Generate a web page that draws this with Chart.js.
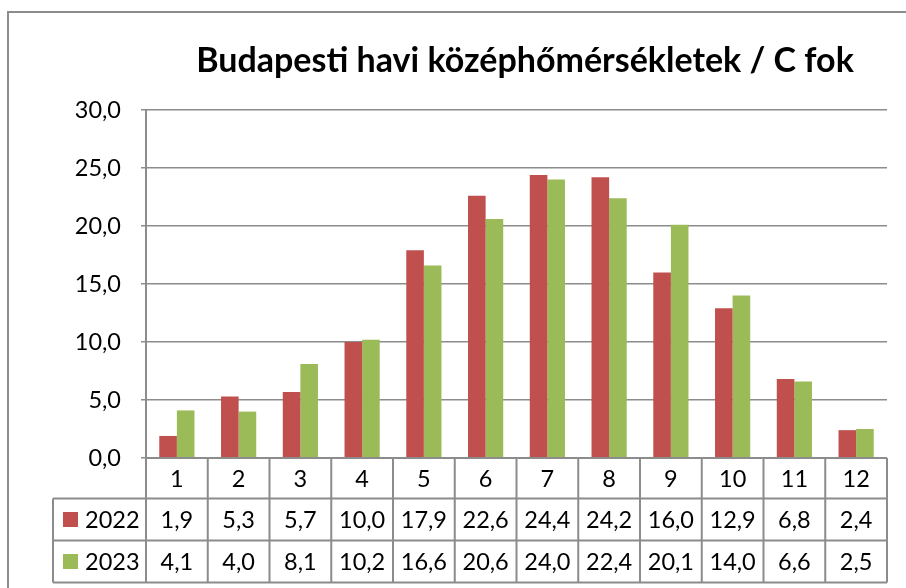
<!DOCTYPE html>
<html><head><meta charset="utf-8">
<script src="https://cdn.jsdelivr.net/npm/chart.js@4/dist/chart.umd.min.js"></script>
<style>html,body{margin:0;padding:0;background:#fff;overflow:hidden}</style>
</head><body>
<canvas id="c" width="906" height="588"></canvas>
<script>
const titleText = 'Budapesti havi középhőmérsékletek / C fok';
const categories = ['1','2','3','4','5','6','7','8','9','10','11','12'];
const seriesNames = ['2022','2023'];
const values2022 = [1.9, 5.3, 5.7, 10.0, 17.9, 22.6, 24.4, 24.2, 16.0, 12.9, 6.8, 2.4];
const values2023 = [4.1, 4.0, 8.1, 10.2, 16.6, 20.6, 24.0, 22.4, 20.1, 14.0, 6.6, 2.5];
const yMin = 0, yMax = 30, yStep = 5;
const seriesColors = ['#C0504D', '#9BBB59'];

const fmt = v => Number(v).toFixed(1).replace('.', ',');
const FONT = 'Lato, "Open Sans", sans-serif';
const LINE = '#8c8c8c';

const framePlugin = {
  id: 'frame',
  beforeDraw(chart) {
    const ctx = chart.ctx;
    ctx.save();
    ctx.fillStyle = '#fff';
    ctx.fillRect(0, 0, chart.width, chart.height);
    ctx.strokeStyle = LINE;
    ctx.lineWidth = 2;
    ctx.beginPath();
    ctx.moveTo(8, chart.height + 5);
    ctx.lineTo(8, 12);
    ctx.lineTo(chart.width + 5, 12);
    ctx.stroke();
    ctx.restore();
  },
  afterDraw(chart) {
    const ctx = chart.ctx;
    const area = chart.chartArea;
    const xs = chart.scales.x;
    const n = categories.length;
    const cw = (area.right - area.left) / n;
    const rows = [area.bottom, area.bottom + 40.5, area.bottom + 82.5, area.bottom + 124.5];
    const legLeft = 53;
    ctx.save();
    // title
    ctx.fillStyle = '#000';
    ctx.font = 'bold 34px ' + FONT;
    ctx.textAlign = 'center';
    ctx.textBaseline = 'alphabetic';
    ctx.fillText(titleText, 525, 72);
    // table lines
    ctx.strokeStyle = LINE;
    ctx.lineWidth = 2;
    ctx.beginPath();
    ctx.moveTo(area.left, rows[0]); ctx.lineTo(area.right, rows[0]);
    for (let r = 1; r < 4; r++) { ctx.moveTo(legLeft, rows[r]); ctx.lineTo(area.right, rows[r]); }
    for (let i = 0; i < n; i++) {
      const c = xs.getPixelForValue(i);
      const l = c - cw / 2;
      ctx.moveTo(l, rows[0]); ctx.lineTo(l, rows[3]);
      if (i === n - 1) { ctx.moveTo(c + cw / 2, rows[0]); ctx.lineTo(c + cw / 2, rows[3]); }
    }
    ctx.moveTo(legLeft, rows[1]); ctx.lineTo(legLeft, rows[3]);
    ctx.stroke();
    // text
    ctx.fillStyle = '#000';
    ctx.font = '23.5px ' + FONT;
    ctx.textAlign = 'center';
    ctx.textBaseline = 'middle';
    const data = [values2022, values2023];
    for (let i = 0; i < n; i++) {
      const c = xs.getPixelForValue(i);
      ctx.fillText(categories[i], c, (rows[0] + rows[1]) / 2 + 1);
      for (let s = 0; s < 2; s++) {
        ctx.fillText(fmt(data[s][i]), c, (rows[s + 1] + rows[s + 2]) / 2 + 1);
      }
    }
    // legend keys
    ctx.textAlign = 'left';
    for (let s = 0; s < 2; s++) {
      const cy = (rows[s + 1] + rows[s + 2]) / 2;
      ctx.fillStyle = seriesColors[s];
      ctx.fillRect(63, cy - 7.5, 15, 15);
      ctx.fillStyle = '#000';
      ctx.fillText(seriesNames[s], 85, cy + 1);
    }
    ctx.restore();
  }
};

new Chart(document.getElementById('c'), {
  type: 'bar',
  data: {
    labels: categories,
    datasets: [
      { label: seriesNames[0], data: values2022, backgroundColor: seriesColors[0], borderWidth: 0 },
      { label: seriesNames[1], data: values2023, backgroundColor: seriesColors[1], borderWidth: 0 }
    ]
  },
  options: {
    responsive: false,
    animation: false,
    devicePixelRatio: 1,
    categoryPercentage: 0.57,
    barPercentage: 1,
    layout: { padding: { left: 0, top: 110, right: 19, bottom: 130 } },
    plugins: { legend: { display: false }, title: { display: false }, tooltip: { enabled: false } },
    scales: {
      x: { display: false, grid: { display: false } },
      y: {
        min: yMin, max: yMax,
        ticks: { stepSize: yStep, callback: v => fmt(v), color: '#000', font: { family: FONT, size: 23.5 }, padding: 20 },
        grid: { color: LINE, lineWidth: 1.5, tickLength: 5, drawTicks: true },
        border: { color: LINE, width: 2 },
        afterFit: s => { s.width = 146; }
      }
    }
  },
  plugins: [framePlugin]
});
</script>
</body></html>
